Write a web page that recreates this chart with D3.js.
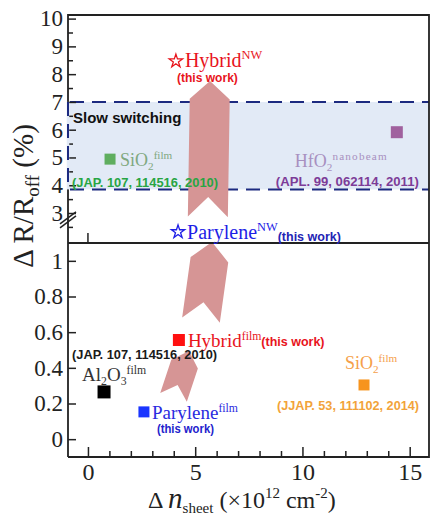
<!DOCTYPE html>
<html>
<head>
<meta charset="utf-8">
<script src="https://cdn.jsdelivr.net/npm/d3@7"></script>
<style>
  body { margin: 0; background: #fff; }
  svg { display: block; }
</style>
</head>
<body>
<div id="chart"></div>
<script>
// ---- data ----
const topNames = ["Hybrid NW", "Parylene NW", "SiO2 film", "HfO2 nanobeam"];
const topX = [4.1, 4.2, 1.03, 14.4];
const topY = [8.47, 2.32, 4.94, 5.91];

const bottomNames = ["Hybrid film", "Al2O3 film", "Parylene film", "SiO2 film"];
const bottomX = [4.24, 0.75, 2.61, 12.87];
const bottomY = [0.556, 0.265, 0.153, 0.304];

const slowBand = [3.85, 7.0];

// arrows: [tailX, tailY, tipX, tipY] in data units
const arrowsTop = [[5.59, 2.86, 5.69, 7.75]];
const arrowsBottom = [[5.27, 0.668, 5.78, 1.106], [3.99, 0.234, 4.71, 0.495]];

const xTicks = [0, 5, 10, 15];
const xMinor = [1, 2, 3, 4, 6, 7, 8, 9, 11, 12, 13, 14];
const yTopTicks = [3, 4, 5, 6, 7, 8, 9, 10];
const yTopMinor = [2.5, 3.5, 4.5, 5.5, 6.5, 7.5, 8.5, 9.5];
const yBottomTicks = [0, 0.2, 0.4, 0.6, 0.8, 1];

// ---- layout / styling ----
const SERIF = '"Liberation Serif", "Times New Roman", serif';
const SANS = '"Liberation Sans", Arial, sans-serif';
const W = 430, H = 517;
const plotL = 68, plotR = 429, plotT = 15, splitY = 243, plotB = 457;
const arrowFill = "#d69595";

const topStyle = [
  { mark: "star", color: "#e8141c", label: [{ t: "Hybrid" }, { t: "NW", sup: true }], size: 20, lc: "#e8141c", dx: 9, dy: 6,
    cite: "(this work)", cc: "#e8141c", cx: 1, cy: 21, cw: 61 },
  { mark: "star", color: "#1e1ee6", label: [{ t: "Parylene" }, { t: "NW", sup: true }, { t: "(this work)", note: true, shift: 2, color: "#2424b4" }],
    size: 20, lc: "#1e1ee6", dx: 9, dy: 7 },
  { mark: "square", color: "#5fae5f", side: 11, label: [{ t: "SiO" }, { t: "2", sub: true }, { t: "film", sup: true }], size: 18, lc: "#80a880", dx: 10, dy: 7,
    cite: "(JAP. 107, 114516, 2010)", cc: "#27a543", cx: -38, cy: 28, cw: 146 },
  { mark: "square", color: "#a0619e", side: 12, label: [{ t: "HfO" }, { t: "2", sub: true }, { t: "nanobeam", sup: true, ls: 1.2 }], size: 18, lc: "#a890c0", dx: -102, dy: 35,
    cite: "(APL. 99, 062114, 2011)", cc: "#7d3c98", cx: -121, cy: 54, cw: 143 }
];

const bottomStyle = [
  { mark: "square", color: "#ff1010", side: 12, label: [{ t: "Hybrid" }, { t: "film", sup: true }, { t: "(this work)", note: true, shift: -1, color: "#e8141c" }],
    size: 19, lc: "#e8141c", dx: 9, dy: 7 },
  { mark: "square", color: "#000", side: 13, label: [{ t: "Al" }, { t: "2", sub: true }, { t: "O" }, { t: "3", sub: true }, { t: "film", sup: true }],
    size: 19, lc: "#333", dx: -22, dy: -11,
    cite: "(JAP. 107, 114516, 2010)", cc: "#1a1a1a", cx: -32, cy: -33, cw: 145 },
  { mark: "square", color: "#1a35ff", side: 11, label: [{ t: "Parylene" }, { t: "film", sup: true }], size: 19, lc: "#2a2ae0", dx: 8, dy: 7,
    cite: "(this work)", cc: "#2222cc", cx: 13, cy: 21, cw: 57 },
  { mark: "square", color: "#f7941d", side: 11, label: [{ t: "SiO" }, { t: "2", sub: true }, { t: "film", sup: true }], size: 18, lc: "#f5a04a", dx: -19, dy: -16,
    cite: "(JJAP. 53, 111102, 2014)", cc: "#f2a33a", cx: -87, cy: 25, cw: 142 }
];
const arrowTopSize = [{ w: 40, head: 18, notch: 20 }];
const arrowBottomSize = [{ w: 38, head: 18, notch: 18 }, { w: 28, head: 14, notch: 13 }];

const svg = d3.select("#chart").append("svg")
  .attr("width", W)
  .attr("height", H);

const x = d3.scaleLinear().domain([-0.93, 15.9]).range([plotL, plotR]);
const yTop = d3.scaleLinear().domain([1.92, 10.13]).range([splitY, plotT]);
const yBot = d3.scaleLinear().domain([-0.1, 1.1]).range([plotB, splitY]);

// slow switching band
svg.append("rect")
  .attr("x", plotL)
  .attr("y", yTop(slowBand[1]))
  .attr("width", plotR - plotL)
  .attr("height", yTop(slowBand[0]) - yTop(slowBand[1]))
  .attr("fill", "#e2eaf6");

svg.selectAll(".band-line")
  .data(slowBand)
  .enter().append("line")
  .attr("class", "band-line")
  .attr("x1", plotL + 2).attr("x2", plotR)
  .attr("y1", d => yTop(d)).attr("y2", d => yTop(d))
  .attr("stroke", "#1c2a80")
  .attr("stroke-width", 2)
  .attr("stroke-dasharray", "14,8");

// chevron arrows
function chevron(x0, y0, x1, y1, w, head, notch) {
  const dx = x1 - x0, dy = y1 - y0, len = Math.hypot(dx, dy);
  const ux = dx / len, uy = dy / len, nx = -uy, ny = ux, h = w / 2;
  return [
    [x1, y1],
    [x1 - ux * head + nx * h, y1 - uy * head + ny * h],
    [x0 + nx * h, y0 + ny * h],
    [x0 + ux * notch, y0 + uy * notch],
    [x0 - nx * h, y0 - ny * h],
    [x1 - ux * head - nx * h, y1 - uy * head - ny * h]
  ];
}

function drawArrows(list, sizes, yScale) {
  list.forEach((a, i) => {
    const s = sizes[i];
    const pts = chevron(x(a[0]), yScale(a[1]), x(a[2]), yScale(a[3]), s.w, s.head, s.notch);
    svg.append("path")
      .attr("d", d3.line()(pts) + "Z")
      .attr("fill", arrowFill);
  });
}
drawArrows(arrowsTop, arrowTopSize, yTop);
drawArrows(arrowsBottom, arrowBottomSize, yBot);

// axes
function styleAxis(g, size) {
  g.attr("font-family", SERIF).attr("font-size", size);
  g.select(".domain").remove();
  g.selectAll("line").attr("stroke", "#222").attr("stroke-width", 1.5);
  g.selectAll("text").attr("fill", "#222");
}

svg.append("g")
  .attr("transform", `translate(${plotL},0)`)
  .call(d3.axisLeft(yTop).tickValues(yTopTicks).tickSize(-8).tickPadding(5).tickFormat(d3.format("d")))
  .call(g => styleAxis(g, 23));
svg.append("g")
  .attr("transform", `translate(${plotL},0)`)
  .call(d3.axisLeft(yTop).tickValues(yTopMinor).tickSize(-5).tickFormat(""))
  .call(g => styleAxis(g, 23));

svg.append("g")
  .attr("transform", `translate(${plotL},0)`)
  .call(d3.axisLeft(yBot).tickValues(yBottomTicks).tickSize(-8).tickPadding(5).tickFormat(d => d === 0 || d === 1 ? d : d3.format(".1f")(d)))
  .call(g => styleAxis(g, 23));

svg.append("g")
  .attr("transform", `translate(0,${plotB})`)
  .call(d3.axisBottom(x).tickValues(xTicks).tickSize(-10).tickPadding(6))
  .call(g => styleAxis(g, 24));
svg.append("g")
  .attr("transform", `translate(0,${plotB})`)
  .call(d3.axisBottom(x).tickValues(xMinor).tickSize(-6).tickFormat(""))
  .call(g => styleAxis(g, 24));

// frame and split line
const frame = svg.append("g").attr("stroke", "#222").attr("stroke-width", 1.8).attr("fill", "none");
frame.append("path").attr("d", `M${plotL},${plotB}V${plotT}H${plotR}V${plotB}H${plotL}`);
frame.append("line").attr("x1", plotL).attr("x2", plotR).attr("y1", splitY).attr("y2", splitY);
frame.append("line").attr("x1", x(0)).attr("x2", x(0)).attr("y1", splitY).attr("y2", splitY - 10).attr("stroke-width", 1.5);

// left edge of the band drawn dashed over the axis
svg.append("line")
  .attr("x1", plotL).attr("x2", plotL)
  .attr("y1", yTop(slowBand[1])).attr("y2", yTop(slowBand[0]))
  .attr("stroke", "#e2eaf6").attr("stroke-width", 2.5);
svg.append("line")
  .attr("x1", plotL).attr("x2", plotL)
  .attr("y1", yTop(slowBand[1])).attr("y2", yTop(slowBand[0]))
  .attr("stroke", "#1c2a80").attr("stroke-width", 2)
  .attr("stroke-dasharray", "14,8");

// axis break marks
const brk = yTop(2.75);
[-2, 2].forEach(o => {
  svg.append("line")
    .attr("x1", plotL - 8).attr("y1", brk + 6 + o)
    .attr("x2", plotL + 8).attr("y2", brk - 6 + o)
    .attr("stroke", "#222").attr("stroke-width", 1.5);
});

svg.append("text")
  .attr("x", plotL + 5)
  .attr("y", yTop(slowBand[1]) + 21)
  .attr("font-family", SANS)
  .attr("font-weight", "bold")
  .attr("font-size", 15)
  .attr("fill", "#111")
  .text("Slow switching");

// rich text with sub/superscripts
function richText(g, px, py, parts, size, color) {
  const t = g.append("text")
    .attr("x", px).attr("y", py)
    .attr("font-family", SERIF)
    .attr("font-size", size)
    .attr("fill", color);
  let cur = 0;
  parts.forEach(p => {
    let shift = 0, fs = size;
    if (p.sup) { shift = -0.38 * size; fs = 0.62 * size; }
    if (p.sub) { shift = 0.22 * size; fs = 0.62 * size; }
    if (p.note) { shift = p.shift; fs = 12.5; }
    const s = t.append("tspan").attr("dy", shift - cur).attr("font-size", fs).text(p.t);
    if (p.note) s.attr("font-family", SANS).attr("font-weight", "bold").attr("fill", p.color);
    if (p.ls) s.attr("letter-spacing", p.ls);
    cur = shift;
  });
  return t;
}

function drawPoints(names, xs, ys, styles, yScale) {
  const g = svg.append("g");
  names.forEach((name, i) => {
    const st = styles[i];
    const px = x(xs[i]), py = yScale(ys[i]);
    if (st.mark === "star") {
      g.append("path")
        .attr("d", d3.symbol(d3.symbolStar, 55)())
        .attr("transform", `translate(${px},${py})`)
        .attr("fill", "#fff")
        .attr("stroke", st.color)
        .attr("stroke-width", 1.3);
    } else {
      g.append("path")
        .attr("d", d3.symbol(d3.symbolSquare, st.side * st.side)())
        .attr("transform", `translate(${px},${py})`)
        .attr("fill", st.color);
    }
    richText(g, px + st.dx, py + st.dy, st.label, st.size, st.lc);
    if (st.cite) {
      g.append("text")
        .attr("x", px + st.cx).attr("y", py + st.cy)
        .attr("font-family", SANS)
        .attr("font-weight", "bold")
        .attr("font-size", 12.5)
        .attr("fill", st.cc)
        .attr("textLength", st.cw)
        .attr("lengthAdjust", "spacingAndGlyphs")
        .text(st.cite);
    }
  });
}
drawPoints(topNames, topX, topY, topStyle, yTop);
drawPoints(bottomNames, bottomX, bottomY, bottomStyle, yBot);

// axis titles
const xt = svg.append("text")
  .attr("x", 148).attr("y", 508)
  .attr("font-family", SERIF).attr("font-size", 24).attr("fill", "#222");
xt.append("tspan").text("Δ ");
xt.append("tspan").attr("font-style", "italic").attr("font-size", 29).text("n");
xt.append("tspan").attr("font-size", 15).attr("dy", 5).text("sheet");
xt.append("tspan").attr("dy", -5).text(" (×10");
xt.append("tspan").attr("font-size", 15).attr("dy", -10).text("12");
xt.append("tspan").attr("dy", 10).text(" cm");
xt.append("tspan").attr("font-size", 15).attr("dy", -10).text("-2");
xt.append("tspan").attr("dy", 10).text(")");

const yt = svg.append("text")
  .attr("transform", "translate(33,196) rotate(-90)")
  .attr("text-anchor", "middle")
  .attr("font-family", SERIF).attr("font-size", 29).attr("fill", "#222");
yt.append("tspan").text("Δ R/R");
yt.append("tspan").attr("font-size", 19).attr("dy", 6).text("off");
yt.append("tspan").attr("dy", -6).text(" (%)");
</script>
</body>
</html>
